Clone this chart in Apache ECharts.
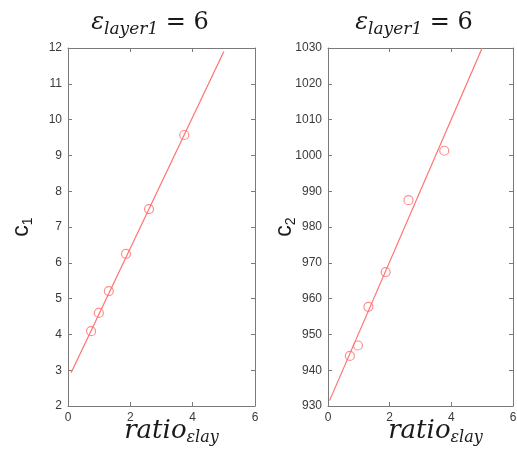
<!DOCTYPE html>
<html><head><meta charset="utf-8">
<script src="https://cdn.jsdelivr.net/npm/echarts@6/dist/echarts.min.js"></script>
<style>html,body{margin:0;padding:0;background:#fff}#c{width:517px;height:450px}</style>
</head><body><div id="c"></div>
<script>
// data
const ratioLeft = [0.74, 0.99, 1.31, 1.86, 2.60, 3.73];
const c1 = [4.09, 4.60, 5.21, 6.25, 7.50, 9.57];
const ratioRight = [0.71, 0.97, 1.31, 1.87, 2.61, 3.77];
const c2 = [944.0, 946.9, 957.7, 967.4, 987.5, 1001.3];
const fitXLeft = [0.1, 5.0];
const fitC1 = [2.93, 11.9];
const fitXRight = [0.05, 5.0];
const fitC2 = [931.5, 1030];
const xTicks = [0, 2, 4, 6];
const titleLeft = 'ε_layer1 = 6';
const titleRight = 'ε_layer1 = 6';

const red = '#ff7373';
const axisCol = '#7a7a7a';
const labCol = '#3a3a3a';
const grids = [
  {left: 68, top: 48, width: 187, height: 358, outerBoundsMode: 'none', containLabel: false},
  {left: 328, top: 48, width: 185, height: 358, outerBoundsMode: 'none', containLabel: false}
];
function titleRich(t) {
  const [base, rest] = t.split('_');
  const [sub, tail] = rest.split(' = ');
  return `{e|${base}}{s|${sub}}{n| = ${tail}}`;
}
const richTitle = {
  e: {fontFamily: 'DejaVu Serif', fontStyle: 'italic', fontWeight: 'normal', fontSize: 24, color: '#1a1a1a', lineHeight: 30, verticalAlign: 'middle'},
  s: {fontFamily: 'DejaVu Serif', fontStyle: 'italic', fontWeight: 'normal', fontSize: 17, color: '#1a1a1a', lineHeight: 16, verticalAlign: 'bottom'},
  n: {fontFamily: 'DejaVu Serif', fontWeight: 'normal', fontSize: 24, color: '#1a1a1a', lineHeight: 30, verticalAlign: 'middle'}
};
function mainX(gi, nameShift) {
  return {
    type: 'value', gridIndex: gi, min: 0, max: 6, interval: 2, position: 'bottom',
    axisLine: {show: true, onZero: false, lineStyle: {color: axisCol}},
    axisTick: {show: true, inside: true, length: 4, lineStyle: {color: axisCol}},
    axisLabel: {color: labCol, fontFamily: 'Liberation Sans', fontSize: 12, margin: 6},
    splitLine: {show: false},
    name: '{r|ratio}{s|εlay}', nameLocation: 'middle', nameGap: 10, nameMoveOverlap: false,
    nameTextStyle: {
      padding: [0, 0, 0, nameShift],
      rich: {
        r: {fontFamily: 'DejaVu Serif', fontStyle: 'italic', fontSize: 26, color: '#1a1a1a', lineHeight: 30, verticalAlign: 'middle'},
        s: {fontFamily: 'DejaVu Serif', fontStyle: 'italic', fontSize: 16, color: '#1a1a1a', lineHeight: 14, verticalAlign: 'bottom'}
      }
    }
  };
}
function topX(gi) {
  return {
    type: 'value', gridIndex: gi, min: 0, max: 6, interval: 2, position: 'top',
    axisLine: {show: true, onZero: false, lineStyle: {color: axisCol}},
    axisTick: {show: true, inside: true, length: 4, lineStyle: {color: axisCol}},
    axisLabel: {show: false}, splitLine: {show: false}
  };
}
function mainY(gi, min, max, interval, sub, gap) {
  return {
    type: 'value', gridIndex: gi, min: min, max: max, interval: interval, position: 'left',
    axisLine: {show: true, onZero: false, lineStyle: {color: axisCol}},
    axisTick: {show: true, inside: true, length: 4, lineStyle: {color: axisCol}},
    axisLabel: {color: labCol, fontFamily: 'Liberation Sans', fontSize: 12, margin: 6, formatter: v => String(v)},
    splitLine: {show: false},
    name: '{c|c}{s|' + sub + '}', nameLocation: 'middle', nameGap: gap, nameRotate: 90, nameMoveOverlap: false,
    nameTextStyle: {
      rich: {
        c: {fontFamily: 'Liberation Sans', fontSize: 23, color: '#1a1a1a', lineHeight: 26, verticalAlign: 'middle'},
        s: {fontFamily: 'Liberation Sans', fontSize: 14, color: '#1a1a1a', lineHeight: 14, verticalAlign: 'bottom'}
      }
    }
  };
}
function rightY(gi, min, max, interval) {
  return {
    type: 'value', gridIndex: gi, min: min, max: max, interval: interval, position: 'right',
    axisLine: {show: true, onZero: false, lineStyle: {color: axisCol}},
    axisTick: {show: true, inside: true, length: 4, lineStyle: {color: axisCol}},
    axisLabel: {show: false}, splitLine: {show: false}
  };
}
const option = {
  animation: false,
  backgroundColor: '#fff',
  title: [
    {text: titleRich(titleLeft), left: 145, top: 3, textAlign: 'center', textStyle: {fontWeight: 'normal', rich: richTitle}},
    {text: titleRich(titleRight), left: 409, top: 3, textAlign: 'center', textStyle: {fontWeight: 'normal', rich: richTitle}}
  ],
  grid: grids,
  xAxis: [mainX(0, 20), mainX(1, 30), topX(0), topX(1)],
  yAxis: [mainY(0, 2, 12, 1, '1', 33), mainY(1, 930, 1030, 10, '2', 30), rightY(0, 2, 12, 1), rightY(1, 930, 1030, 10)],
  series: [
    {type: 'line', xAxisIndex: 0, yAxisIndex: 0, data: fitXLeft.map((x, i) => [x, fitC1[i]]), showSymbol: false, symbol: 'none', lineStyle: {color: red, width: 1.2}, clip: true},
    {type: 'scatter', xAxisIndex: 0, yAxisIndex: 0, data: ratioLeft.map((x, i) => [x, c1[i]]), symbol: 'circle', symbolSize: 9, itemStyle: {color: 'rgba(0,0,0,0)', borderColor: red, borderWidth: 1.2}},
    {type: 'line', xAxisIndex: 1, yAxisIndex: 1, data: fitXRight.map((x, i) => [x, fitC2[i]]), showSymbol: false, symbol: 'none', lineStyle: {color: red, width: 1.2}, clip: true},
    {type: 'scatter', xAxisIndex: 1, yAxisIndex: 1, data: ratioRight.map((x, i) => [x, c2[i]]), symbol: 'circle', symbolSize: 9, itemStyle: {color: 'rgba(0,0,0,0)', borderColor: red, borderWidth: 1.2}}
  ]
};
const chart = echarts.init(document.getElementById('c'), null, {renderer: 'canvas'});
chart.setOption(option);
</script>
</body></html>
